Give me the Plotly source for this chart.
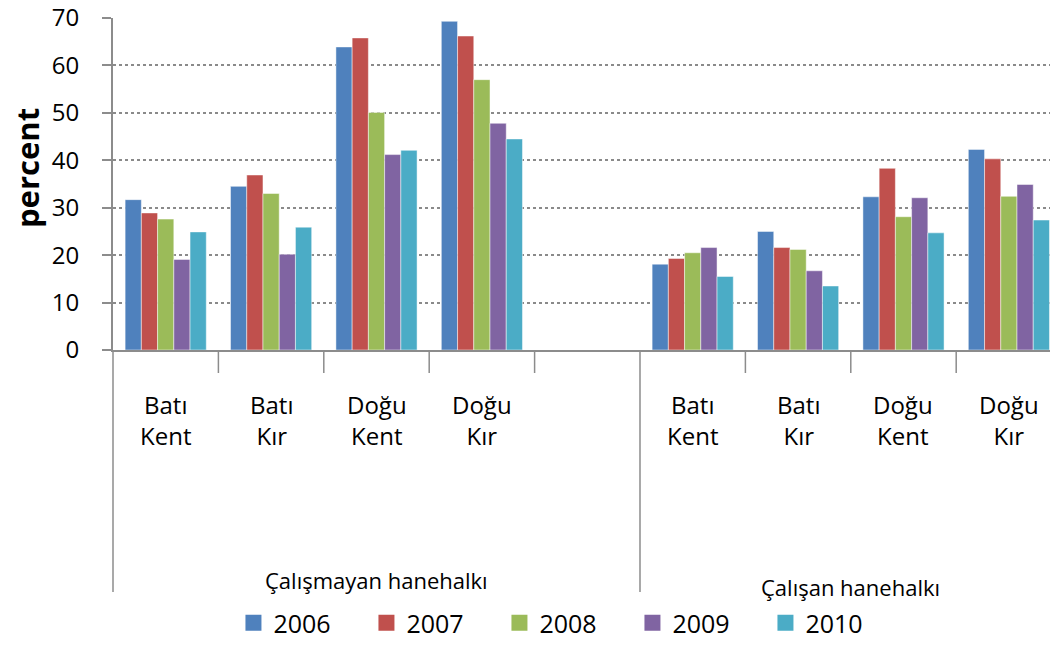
import plotly.graph_objects as go

categories = ["Batı<br>Kent", "Batı<br>Kır", "Doğu<br>Kent", "Doğu<br>Kır", "",
              "Batı<br>Kent", "Batı<br>Kır", "Doğu<br>Kent", "Doğu<br>Kır"]
groups = ["Çalışmayan hanehalkı", "Çalışan hanehalkı"]
years = ["2006", "2007", "2008", "2009", "2010"]

v2006 = [31.7, 34.5, 63.9, 69.3, None, 18.1, 25.0, 32.3, 42.3]
v2007 = [28.9, 36.9, 65.8, 66.2, None, 19.3, 21.6, 38.3, 40.3]
v2008 = [27.6, 33.0, 50.1, 57.0, None, 20.5, 21.2, 28.1, 32.4]
v2009 = [19.1, 20.2, 41.2, 47.8, None, 21.6, 16.7, 32.1, 34.9]
v2010 = [24.9, 25.9, 42.1, 44.5, None, 15.5, 13.5, 24.7, 27.4]
series = [v2006, v2007, v2008, v2009, v2010]
colors = ["#4F81BD", "#C0504D", "#9BBB59", "#8064A2", "#4BACC6"]

FONT = "Open Sans"
W, H = 1050, 646
ML, MT, MB = 113, 18, 296
PH = H - MT - MB
PW = W - ML
XMIN, XMAX = -0.5, 8.39

def py(p):
    return (H - MB - p) / PH

def px(p):
    return (p - ML) / PW

xs = list(range(len(categories)))
fig = go.Figure()
for name, vals, col in zip(years, series, colors):
    fig.add_trace(go.Bar(x=xs, y=vals, name=name, marker_color=col,
                         marker_line=dict(color="rgba(255,255,255,0.6)", width=0.8),
                         showlegend=False))
    fig.add_trace(go.Scatter(x=[None], y=[None], mode="markers", name=name,
                             marker=dict(symbol="square", size=16, color=col)))

shapes = []
span = XMAX - XMIN
for k in range(len(categories)):
    xp = (k - 0.5 - XMIN) / span
    long = k in (0, 5)
    shapes.append(dict(type="line", xref="paper", yref="paper", x0=xp, x1=xp,
                       y0=0, y1=py(592 if long else 373),
                       line=dict(color="#8c8c8c", width=1.5)))

ann = []
for i, c in enumerate(categories):
    if c:
        ann.append(dict(x=i, y=py(420), xref="x", yref="paper", text=c, showarrow=False,
                        font=dict(family=FONT, size=24, color="black"), align="center",
                        yanchor="middle"))
ann.append(dict(x=2, y=py(580), xref="x", yref="paper", text=groups[0], showarrow=False,
                font=dict(family=FONT, size=22, color="black"), yanchor="middle"))
ann.append(dict(x=6.5, y=py(587), xref="x", yref="paper", text=groups[1], showarrow=False,
                font=dict(family=FONT, size=22, color="black"), yanchor="middle"))
ann.append(dict(x=px(27), y=py(168), xref="paper", yref="paper", text="<b>percent</b>",
                showarrow=False, textangle=-90, font=dict(family=FONT, size=31, color="black"),
                xanchor="center", yanchor="middle"))

fig.update_layout(
    width=W, height=H,
    margin=dict(l=ML, r=0, t=MT, b=MB, autoexpand=False),
    paper_bgcolor="white", plot_bgcolor="white",
    barmode="group", bargap=0.23, bargroupgap=0,
    font=dict(family=FONT, color="black"),
    shapes=shapes, annotations=ann,
    legend=dict(orientation="h", xref="container", yref="container",
                x=0.539, y=-4 / H, xanchor="center", yanchor="bottom",
                font=dict(family=FONT, size=25, color="black"),
                entrywidth=88, entrywidthmode="pixels", itemclick=False),
    xaxis=dict(range=[XMIN, XMAX], showticklabels=False, showgrid=False, zeroline=False,
               showline=True, linecolor="#8c8c8c", linewidth=2, ticks="", automargin=False),
    yaxis=dict(range=[0, 70], dtick=10, showgrid=True, griddash="dot",
               gridcolor="#8a8a8a", gridwidth=1.5, zeroline=False,
               showline=True, linecolor="#8c8c8c", linewidth=2,
               ticks="outside", ticklen=9, tickcolor="#8c8c8c", tickwidth=1.5,
               ticklabelstandoff=18, automargin=False,
               tickfont=dict(family=FONT, size=24, color="black")),
)

fig.write_html("out.html", config={"displayModeBar": False},
               post_script="document.body.style.margin='0';document.body.style.overflow='hidden';")
